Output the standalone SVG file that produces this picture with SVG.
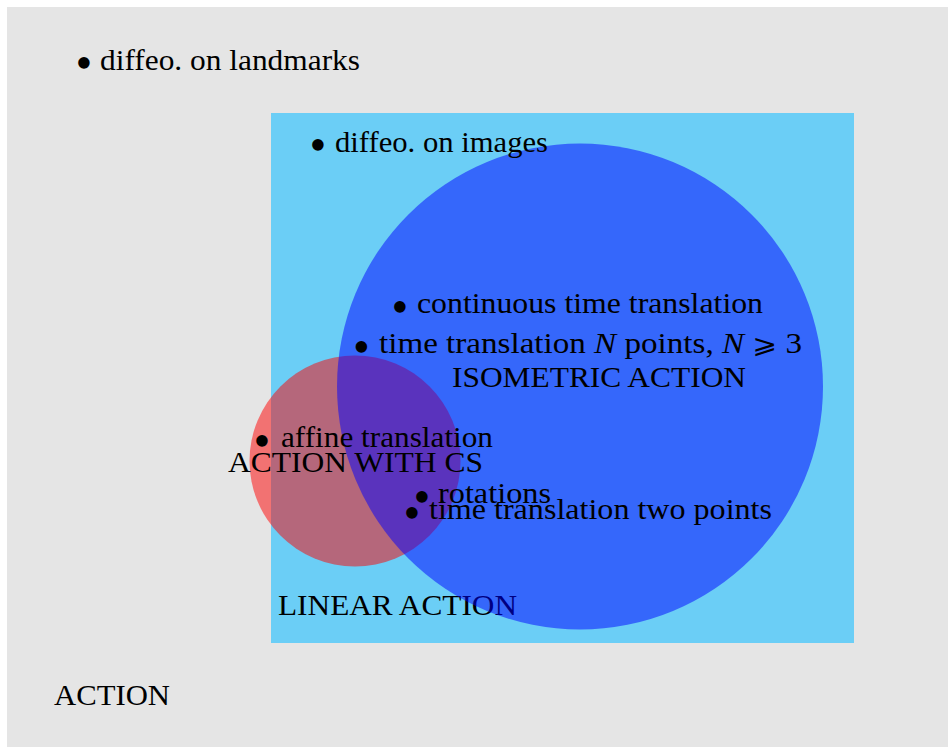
<svg xmlns="http://www.w3.org/2000/svg" width="948" height="747" viewBox="0 0 948 747">
<style>
text{font-family:"Liberation Serif","Times New Roman",serif;font-size:29px;fill:#000}
.b{font-size:48px;text-anchor:middle}
.m{font-style:italic}
.s{font-family:"DejaVu Serif","DejaVu Sans",serif;font-size:26px;font-style:normal}
</style>
<rect x="0" y="0" width="948" height="747" fill="#ffffff"/>
<g id="action">
<rect x="7" y="7" width="941" height="740" fill="#e5e5e5"/>
<text x="54" y="705" textLength="116" lengthAdjust="spacingAndGlyphs">ACTION</text>
</g>
<g id="linear-action">
<rect x="271" y="113" width="583" height="530" fill="#6bcef6"/>
<text x="278" y="615" textLength="239" lengthAdjust="spacingAndGlyphs">LINEAR ACTION</text>
</g>
<g id="action-with-cs">
<circle cx="355" cy="461" r="105.5" fill="#ff0000" fill-opacity="0.5"/>
</g>
<g id="isometric-action">
<circle cx="580" cy="386.5" r="243" fill="#0000ff" fill-opacity="0.5"/>
</g>
<g id="labels">
<text x="228" y="472" textLength="255" lengthAdjust="spacingAndGlyphs">ACTION WITH CS</text>
<text x="452" y="387" textLength="294" lengthAdjust="spacingAndGlyphs">ISOMETRIC ACTION</text>
</g>
<g id="items">
<text class="b" x="84" y="79">•</text>
<text x="100" y="70" textLength="260" lengthAdjust="spacingAndGlyphs">diffeo. on landmarks</text>
<text class="b" x="318" y="160.5">•</text>
<text x="335" y="152" textLength="213" lengthAdjust="spacingAndGlyphs">diffeo. on images</text>
<text class="b" x="400" y="322.5">•</text>
<text x="417" y="313" textLength="346" lengthAdjust="spacingAndGlyphs">continuous time translation</text>
<text class="b" x="361.5" y="362.5">•</text>
<text x="379" y="353" textLength="423" lengthAdjust="spacingAndGlyphs">time translation <tspan class="m">N</tspan> points, <tspan class="m">N</tspan> <tspan class="s">⩾</tspan> 3</text>
<text class="b" x="262" y="456.5">•</text>
<text x="281" y="447" textLength="212" lengthAdjust="spacingAndGlyphs">affine translation</text>
<text class="b" x="422" y="512.5">•</text>
<text x="438" y="503" textLength="113" lengthAdjust="spacingAndGlyphs">rotations</text>
<text class="b" x="412" y="528.5">•</text>
<text x="429" y="519" textLength="343" lengthAdjust="spacingAndGlyphs">time translation two points</text>
</g>
</svg>
